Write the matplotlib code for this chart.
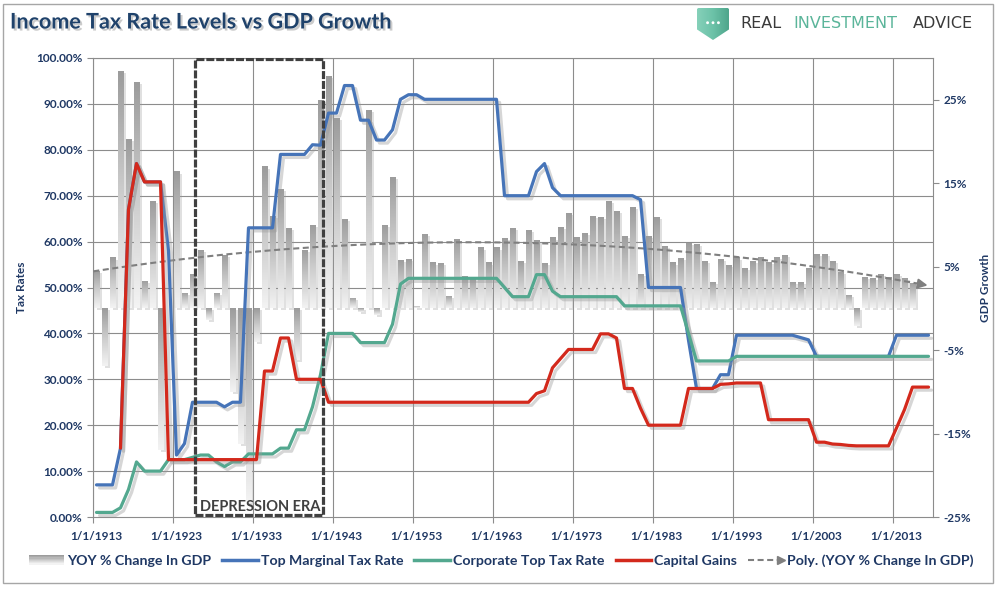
import numpy as np
import matplotlib
matplotlib.use("Agg")
import matplotlib.pyplot as plt
from matplotlib.colors import LinearSegmentedColormap
from matplotlib.patches import Rectangle, Polygon, Circle
from matplotlib.lines import Line2D
from matplotlib.legend_handler import HandlerBase
import matplotlib.patheffects as pe
from matplotlib.ticker import FixedLocator, FuncFormatter, NullFormatter

# ---------------- data ----------------
years = list(range(1913, 2018))

# YOY % change in GDP, 1913-2015 (right axis, %)
gdp_yoy = [4.5, -6.9, 6.1, 28.4, 20.3, 27.1, 3.3, 12.9, -17.0, 0.0,
           16.4, 1.8, 4.1, 7.0, -1.4, 1.8, 6.4, -10.0, -16.2, -23.3,
           -4.0, 17.0, 11.1, 14.3, 9.6, -6.2, 7.0, 10.0, 25.0, 27.8,
           22.8, 10.7, 1.3, -0.4, 23.8, -0.8, 10.0, 15.7, 5.8, 5.9,
           0.3, 8.9, 5.5, 5.4, 1.5, 8.3, 3.9, 3.5, 7.3, 5.5,
           7.3, 8.4, 9.6, 5.7, 9.4, 8.2, 5.4, 8.5, 9.7, 11.4,
           8.5, 9.0, 11.1, 11.0, 12.9, 11.7, 8.7, 12.1, 4.1, 8.7,
           11.0, 7.5, 5.5, 6.0, 7.8, 7.7, 5.7, 3.2, 5.9, 5.2,
           6.1, 4.8, 5.7, 6.2, 5.6, 6.2, 6.4, 3.2, 3.2, 4.8,
           6.5, 6.5, 5.7, 4.4, 1.6, -2.1, 3.8, 3.6, 4.1, 3.7,
           4.1, 3.6, 3.0]

# Tax rates, 1913-2017 (left axis, %)
top_marginal = [7, 7, 7, 15, 67, 77, 73, 73, 73, 58,
                13.5, 16, 25, 25, 25, 25, 24, 25, 25, 63,
                63, 63, 63, 79, 79, 79, 79, 81.1, 81, 88,
                88, 94, 94, 86.45, 86.45, 82.13, 82.13, 84.36, 91, 92,
                92, 91, 91, 91, 91, 91, 91, 91, 91, 91,
                91, 70, 70, 70, 70, 75.25, 77, 71.75, 70, 70,
                70, 70, 70, 70, 70, 70, 70, 70, 69.13, 50,
                50, 50, 50, 50, 38.5, 28, 28, 28, 31, 31,
                39.6, 39.6, 39.6, 39.6, 39.6, 39.6, 39.6, 39.6, 39.1, 38.6,
                35, 35, 35, 35, 35, 35, 35, 35, 35, 35,
                39.6, 39.6, 39.6, 39.6, 39.6]

corporate = [1, 1, 1, 2, 6, 12, 10, 10, 10, 12.5,
             12.5, 12.5, 13, 13.5, 13.5, 12, 11, 12, 12, 13.75,
             13.75, 13.75, 13.75, 15, 15, 19, 19, 24, 31, 40,
             40, 40, 40, 38, 38, 38, 38, 42, 50.75, 52,
             52, 52, 52, 52, 52, 52, 52, 52, 52, 52,
             52, 50, 48, 48, 48, 52.8, 52.8, 49.2, 48, 48,
             48, 48, 48, 48, 48, 48, 46, 46, 46, 46,
             46, 46, 46, 46, 40, 34, 34, 34, 34, 34,
             35, 35, 35, 35, 35, 35, 35, 35, 35, 35,
             35, 35, 35, 35, 35, 35, 35, 35, 35, 35,
             35, 35, 35, 35, 35]

capital_gains = [None, None, None, 15, 67, 77, 73, 73, 73, 12.5,
                 12.5, 12.5, 12.5, 12.5, 12.5, 12.5, 12.5, 12.5, 12.5, 12.5,
                 12.5, 31.8, 31.8, 39, 39, 30, 30, 30, 30, 25,
                 25, 25, 25, 25, 25, 25, 25, 25, 25, 25,
                 25, 25, 25, 25, 25, 25, 25, 25, 25, 25,
                 25, 25, 25, 25, 25, 26.9, 27.5, 32.5, 34.5, 36.5,
                 36.5, 36.5, 36.5, 39.9, 39.9, 39, 28, 28, 23.7, 20,
                 20, 20, 20, 20, 28, 28, 28, 28, 28.9, 29,
                 29.2, 29.2, 29.2, 29.2, 21.2, 21.2, 21.2, 21.2, 21.2, 21.2,
                 16.3, 16.3, 15.9, 15.8, 15.6, 15.5, 15.5, 15.5, 15.5, 15.5,
                 19.4, 23.4, 28.3, 28.3, 28.3]

tick_years = [1913, 1923, 1933, 1943, 1953, 1963, 1973, 1983, 1993, 2003, 2013]
tick_labels = ["1/1/%d" % y for y in tick_years]
legend_labels = ["YOY % Change In GDP", "Top Marginal Tax Rate",
                 "Corporate Top Tax Rate", "Capital Gains",
                 "Poly. (YOY % Change In GDP)"]
TREND_ORDER = 2

# ---------------- style ----------------
FONT = ["Lato", "DejaVu Sans"]
plt.rcParams["font.family"] = FONT
NAVY = "#1f3864"
GRID = "#8c8c8c"
BLUE = "#4674b8"
TEAL = "#53a88f"
RED = "#d3291c"
TREND = "#7f7f7f"
W, H = 998, 589

fig = plt.figure(figsize=(W / 100, H / 100), dpi=100)
fig.patch.set_facecolor("white")
ax = fig.add_axes([92.5 / W, 1 - 517 / H, 840 / W, 459 / H])
ax_t = ax.twinx()

# ---------------- bars (GDP, right axis) ----------------
bar_years = years[:len(gdp_yoy)]
bars = ax.bar(bar_years, gdp_yoy, width=0.7, facecolor="none",
              edgecolor="none", zorder=2)
cmap = LinearSegmentedColormap.from_list("gdp", ["#9c9c9c", "#cbcbcb", "#f3f3f3"])
grad = np.linspace(0, 1, 64).reshape(-1, 1)
for b in bars:
    h = b.get_height()
    if h == 0:
        continue
    b.set_path_effects([pe.SimplePatchShadow(offset=(2.2, -1.5),
                                             shadow_rgbFace="#9a9a9a",
                                             alpha=0.3), pe.Normal()])
    x0, y0, w = b.get_x(), b.get_y(), b.get_width()
    ylo, yhi = min(y0, y0 + h), max(y0, y0 + h)
    im = ax.imshow(grad, extent=(x0, x0 + w, ylo, yhi), cmap=cmap,
                   aspect="auto", origin="upper", zorder=2.5,
                   interpolation="bilinear")
    im.set_clip_path(b)

# polynomial trend of the bars
xs = np.array(bar_years, dtype=float) - 1913
coef = np.polyfit(xs, np.array(gdp_yoy), TREND_ORDER)
tx = np.linspace(1912.6, 2015.9, 300)
ty = np.polyval(coef, tx - 1913)
ax.plot(tx, ty, color=TREND, lw=1.5, ls=(0, (2.9, 1.7)), zorder=3)
ax.annotate("", xy=(2016.9, np.polyval(coef, 2016.9 - 1913)),
            xytext=(2015.6, np.polyval(coef, 2015.6 - 1913)),
            arrowprops=dict(arrowstyle="-|>", color=TREND, lw=1.5,
                            mutation_scale=14, shrinkA=0, shrinkB=0),
            zorder=3)

ax.set_xlim(1912.5, 2017.5)
ax.set_ylim(-25, 30)

# ---------------- tax lines (left axis) ----------------
def pct(lst):
    return np.array([np.nan if v is None else v / 100.0 for v in lst])

def shadow():
    return [pe.SimpleLineShadow(offset=(2.2, -2.2), shadow_color="#9a9a9a",
                                alpha=0.4), pe.Normal()]

for series, col in ((top_marginal, BLUE), (corporate, TEAL), (capital_gains, RED)):
    ax_t.plot(years, pct(series), color=col, lw=2.3, solid_joinstyle="round",
              solid_capstyle="round", path_effects=shadow(), zorder=3)
ax_t.set_ylim(0, 1)

# Depression era box
ax_t.add_patch(Rectangle((1925.35, 0.004), 1941.3 - 1925.35, 0.994, fill=False,
                         edgecolor="#404040", lw=2.3, ls=(0, (2.5, 0.6)),
                         zorder=5))
ax_t.text(1925.9, 0.021, "DEPRESSION ERA", fontsize=10.5, weight="bold",
          color="#404040", va="center", ha="left", zorder=6)

# ---------------- axes / ticks / grid ----------------
ax.xaxis.set_major_locator(FixedLocator([1912.5 + 10 * k for k in range(11)]))
ax.xaxis.set_major_formatter(NullFormatter())
ax.xaxis.set_minor_locator(FixedLocator(tick_years))
ax.xaxis.set_minor_formatter(FuncFormatter(
    lambda v, p: tick_labels[tick_years.index(int(round(v)))]))
ax.tick_params(axis="x", which="major", length=4, color=GRID, direction="out")
ax.tick_params(axis="x", which="minor", length=0, pad=10, labelsize=8.5,
               labelcolor=NAVY)
for lab in ax.get_xticklabels(minor=True):
    lab.set_fontweight("bold")

ax.yaxis.tick_right()
ax.yaxis.set_label_position("right")
ax.yaxis.set_major_locator(FixedLocator([-25, -15, -5, 5, 15, 25]))
ax.yaxis.set_major_formatter(FuncFormatter(lambda v, p: "%d%%" % round(v)))
ax.yaxis.set_minor_locator(FixedLocator([-25 + 5.5 * k for k in range(11)]))
ax.yaxis.set_minor_formatter(NullFormatter())
ax.tick_params(axis="y", which="major", length=4, color=GRID, pad=4,
               labelsize=8.5, labelcolor=NAVY, right=True, left=False)
ax.tick_params(axis="y", which="minor", length=0, right=False, left=False)
for lab in ax.get_yticklabels():
    lab.set_fontweight("bold")

ax.grid(True, which="major", axis="x", color=GRID, lw=0.8)
ax.grid(True, which="minor", axis="y", color=GRID, lw=0.8)
ax.set_axisbelow(True)
for s in ax.spines.values():
    s.set_color(GRID)
    s.set_linewidth(0.8)

ax_t.yaxis.tick_left()
ax_t.yaxis.set_label_position("left")
ax_t.yaxis.set_major_locator(FixedLocator([k / 10 for k in range(11)]))
ax_t.yaxis.set_major_formatter(FuncFormatter(lambda v, p: "%.2f%%" % (v * 100)))
ax_t.tick_params(axis="y", length=4, color=GRID, pad=3, labelsize=8.5,
                 labelcolor=NAVY, left=True, right=False)
for lab in ax_t.get_yticklabels():
    lab.set_fontweight("bold")
for s in ax_t.spines.values():
    s.set_visible(False)

ax_t.set_ylabel("Tax Rates", fontsize=8.5, weight="bold", color=NAVY)
ax_t.yaxis.set_label_coords((27 - 92.5) / 840, 0.5)
ax.set_ylabel("GDP Growth", fontsize=8.5, weight="bold", color=NAVY, rotation=90)
ax.yaxis.set_label_coords((980 - 92.5) / 840, 0.5)

# ---------------- legend ----------------
class HandlerGradient(HandlerBase):
    def create_artists(self, legend, orig_handle, xdescent, ydescent,
                       width, height, fontsize, trans):
        arts = []
        n = 8
        for k in range(n):
            c = cmap(k / (n - 1))
            arts.append(Rectangle((-xdescent, -ydescent + height * (n - 1 - k) / n),
                                  width, height / n, facecolor=c,
                                  edgecolor="none", transform=trans))
        return arts


class HandlerArrow(HandlerBase):
    def create_artists(self, legend, orig_handle, xdescent, ydescent,
                       width, height, fontsize, trans):
        y = height / 2 - ydescent
        line = Line2D([-xdescent, width - xdescent - 4], [y, y], color=TREND,
                      lw=1.5, ls=(0, (2.9, 1.7)), transform=trans)
        head = Line2D([width - xdescent - 2], [y], marker=">", ms=6,
                      color=TREND, ls="none", transform=trans)
        return [line, head]


h_bar = Rectangle((0, 0), 1, 1)
h_blue = Line2D([], [], color=BLUE, lw=2.5)
h_teal = Line2D([], [], color=TEAL, lw=2.5)
h_red = Line2D([], [], color=RED, lw=2.5)
h_trend = Line2D([], [], color=TREND)
leg = fig.legend([h_bar, h_blue, h_teal, h_red, h_trend], legend_labels,
                 loc="center", bbox_to_anchor=(0.502, 1 - 560.5 / H), ncol=5,
                 frameon=False, prop=dict(family=FONT, weight="bold", size=10.2),
                 handlelength=2.5, handletextpad=0.25, columnspacing=0.75,
                 handler_map={h_bar: HandlerGradient(), h_trend: HandlerArrow()})
for t in leg.get_texts():
    t.set_color(NAVY)

# ---------------- title, logo, frame ----------------
fig.text(10 / W, 1 - 22 / H, "Income Tax Rate Levels vs GDP Growth",
         fontsize=15.5, weight="bold", color="#1f426b", va="center", ha="left",
         path_effects=[pe.withSimplePatchShadow(offset=(1.5, -1.5),
                                                shadow_rgbFace="#555555",
                                                alpha=0.3)])

logo_ax = fig.add_axes([697 / W, 1 - 40 / H, 32 / W, 32 / H])
logo_ax.set_xlim(0, 1)
logo_ax.set_ylim(0, 1)
logo_ax.axis("off")
shield = Polygon([(0.0, 0.97), (0.04, 1.0), (0.96, 1.0), (1.0, 0.97),
                  (1.0, 0.33), (0.5, 0.0), (0.0, 0.33)], closed=True,
                 facecolor="none", edgecolor="none")
logo_ax.add_patch(shield)
lg = logo_ax.imshow(np.linspace(0, 1, 32).reshape(1, -1), extent=(0, 1, 0, 1),
                    cmap=LinearSegmentedColormap.from_list(
                        "sh", ["#85d0b9", "#6cc2a8", "#4fa68c"]),
                    aspect="auto", origin="lower")
lg.set_clip_path(shield)
for cx in (0.33, 0.5, 0.67):
    logo_ax.add_patch(Circle((cx, 0.54), 0.045, facecolor="white",
                             edgecolor="none", zorder=3))

fig.text(740 / W, 1 - 23.5 / H, "REAL", color="#3a3a3a", fontsize=11.5,
         family="DejaVu Sans", va="center", ha="left")
fig.text(793 / W, 1 - 23.5 / H, "INVESTMENT", color="#5bb59a", fontsize=11.5,
         family="DejaVu Sans", va="center", ha="left")
fig.text(913 / W, 1 - 23.5 / H, "ADVICE", color="#3a3a3a", fontsize=11.5,
         family="DejaVu Sans", va="center", ha="left")

fig.patches.append(Rectangle((3 / W, 1 - 583 / H), 990 / W, 579 / H,
                             transform=fig.transFigure, fill=False,
                             edgecolor="#a6a6a6", lw=1))

fig.savefig("out.png", dpi=100, facecolor="white")
